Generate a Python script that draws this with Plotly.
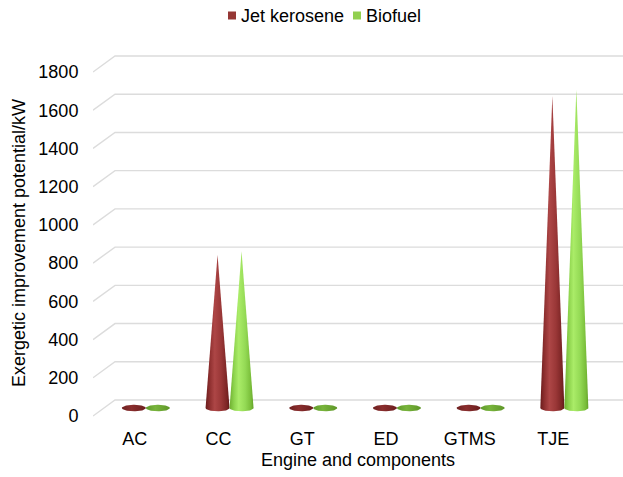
import numpy as np
import plotly.graph_objects as go

categories = ["AC", "CC", "GT", "ED", "GTMS", "TJE"]
jet_kerosene = [6, 800, 5, 5, 6, 1632]
biofuel = [7, 820, 6, 6, 7, 1666]
y_ticks = [0, 200, 400, 600, 800, 1000, 1200, 1400, 1600, 1800]
series_names = ["Jet kerosene", "Biofuel"]

W, H = 623, 477
L, R, T, B = 93, 0, 50, 57
PW, PH = W - L - R, H - T - B
px_per_x = 83.7
x_lo = -0.5
x_hi = x_lo + PW / px_per_x
y_lo, y_hi = -20.9, 1915.1
px_per_y = PH / (y_hi - y_lo)
depth_x = 22 / px_per_x
depth_y = 16 / px_per_y
cone_a = 12 / px_per_x
cone_b = 3.3 / px_per_y
half_gap = 12 / px_per_x

scales = {
    "Jet kerosene": [[0, "#6a1c1c"], [0.18, "#8f3030"], [0.38, "#ad4646"], [0.65, "#9a3737"], [0.9, "#7a2424"], [1, "#5e1818"]],
    "Biofuel": [[0, "#6fae30"], [0.18, "#8cd24c"], [0.38, "#aaec68"], [0.65, "#94da55"], [0.9, "#78bc38"], [1, "#62a028"]],
}
flat_scales = {
    "Jet kerosene": [[0, "#6e2020"], [0.4, "#8a2e2e"], [1, "#6a1e1e"]],
    "Biofuel": [[0, "#5f9a2a"], [0.4, "#78b43c"], [1, "#5e9628"]],
}
legend_colors = {"Jet kerosene": "#953735", "Biofuel": "#92D050"}

fig = go.Figure()

# back-wall gridlines with 3D slant
for v in y_ticks:
    fig.add_trace(go.Scatter(
        x=[x_lo, x_lo + depth_x, x_hi + 1],
        y=[v, v + depth_y, v + depth_y],
        mode="lines", line=dict(color="#dcdcdc", width=1.4),
        hoverinfo="skip", showlegend=False,
    ))


def cone(cx, v, name):
    base = depth_y / 2
    t = np.linspace(np.pi, 2 * np.pi, 40)
    xs = list(cx + cone_a * np.cos(t))
    ys = list(base + cone_b * np.sin(t))
    flat = v <= cone_b * 1.2
    if not flat:
        xs.append(cx)
        ys.append(base + v)
    else:
        t2 = np.linspace(0, np.pi, 40)
        xs += list(cx + cone_a * np.cos(t2))
        ys += list(base + cone_b * np.sin(t2))
    xs.append(xs[0])
    ys.append(ys[0])
    return go.Scatter(
        x=xs, y=ys, mode="lines", line=dict(width=0),
        fill="toself",
        fillgradient=dict(type="horizontal",
                          colorscale=(flat_scales if flat else scales)[name],
                          start=cx - cone_a, stop=cx + cone_a),
        name=name, showlegend=False, hoverinfo="skip",
    )


for i, cat in enumerate(categories):
    center = i + depth_x / 2
    fig.add_trace(cone(center - half_gap, jet_kerosene[i], "Jet kerosene"))
    fig.add_trace(cone(center + half_gap, biofuel[i], "Biofuel"))


def px_x(p):
    return (p - L) / PW


def px_y(p):
    return 1 + (T - p) / PH


# legend keys and labels (custom, to match the compact legend)
legend_pos = {"Jet kerosene": (228, 239), "Biofuel": (353, 364)}
shapes = []
annotations = []
for name in series_names:
    sx, tx = legend_pos[name]
    shapes.append(dict(type="rect", xref="paper", yref="paper",
                       x0=px_x(sx), x1=px_x(sx + 8), y0=px_y(19.5), y1=px_y(11.5),
                       fillcolor=legend_colors[name], line=dict(width=0)))
    annotations.append(dict(text=name, xref="paper", yref="paper",
                            x=px_x(tx), y=px_y(16.5), xanchor="left", yanchor="middle",
                            showarrow=False, font=dict(size=18)))

annotations.append(dict(text="Exergetic improvement potential/kW", xref="paper", yref="paper",
                        x=px_x(19), y=px_y(243), xanchor="center", yanchor="middle",
                        textangle=-90, showarrow=False, font=dict(size=18)))

font = "Liberation Sans, Arial, sans-serif"
fig.update_layout(
    width=W, height=H,
    margin=dict(l=L, r=R, t=T, b=B),
    paper_bgcolor="white", plot_bgcolor="white",
    font=dict(family=font, size=18, color="#000000"),
    showlegend=False,
    shapes=shapes, annotations=annotations,
    xaxis=dict(range=[x_lo, x_hi], tickmode="array", tickvals=list(range(len(categories))),
               ticktext=categories, showgrid=False, zeroline=False, showline=False,
               ticks="outside", ticklen=2, tickcolor="rgba(0,0,0,0)",
               tickfont=dict(size=18),
               title=dict(text="Engine and components", standoff=5, font=dict(size=18))),
    yaxis=dict(range=[y_lo, y_hi], tickmode="array", tickvals=y_ticks,
               showgrid=False, zeroline=False, showline=False,
               ticks="outside", ticklen=10, tickcolor="rgba(0,0,0,0)",
               tickfont=dict(size=18)),
)

fig.write_html("out.html")
